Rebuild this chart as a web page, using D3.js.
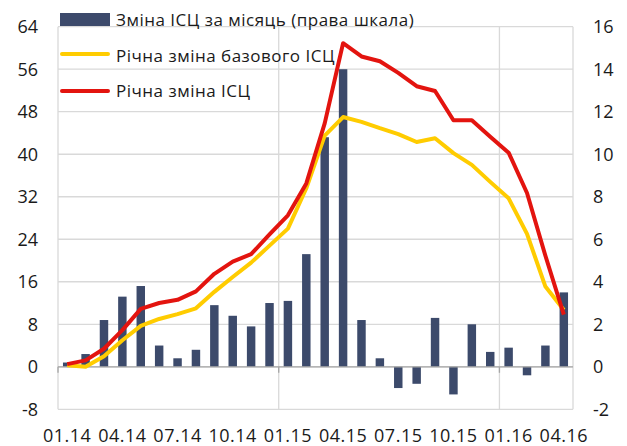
<!DOCTYPE html>
<html><head><meta charset="utf-8">
<script src="https://cdn.jsdelivr.net/npm/d3@7"></script>
<style>body{margin:0;background:#fff}svg{display:block}text{font-family:"Open Sans",sans-serif;fill:#1a1a1a}</style>
</head><body><svg id="c" width="627" height="446"></svg>
<script>
const months = ['01.14','02.14','03.14','04.14','05.14','06.14','07.14','08.14','09.14','10.14','11.14','12.14',
  '01.15','02.15','03.15','04.15','05.15','06.15','07.15','08.15','09.15','10.15','11.15','12.15',
  '01.16','02.16','03.16','04.16'];
const monthlyCPI = [0.2,0.6,2.2,3.3,3.8,1.0,0.4,0.8,2.9,2.4,1.9,3.0,
  3.1,5.3,10.8,14.0,2.2,0.4,-1.0,-0.8,2.3,-1.3,2.0,0.7,0.9,-0.4,1.0,3.5];
const coreYoY = [0.3,0.0,2.0,5.0,7.7,9.0,9.9,11.0,14.1,16.9,19.6,22.8,
  26.0,33.6,43.5,47.0,46.1,44.9,43.8,42.3,43.0,40.2,38.0,34.8,31.7,25.0,15.1,10.7];
const cpiYoY = [0.5,1.2,3.4,6.9,10.9,12.0,12.6,14.2,17.5,19.8,21.2,24.9,
  28.5,34.5,45.8,60.9,58.4,57.5,55.3,52.8,51.9,46.4,46.4,43.3,40.3,32.7,20.9,9.8];
const leftTicks = [-8,0,8,16,24,32,40,48,56,64];
const rightTicks = [-2,0,2,4,6,8,10,12,14,16];
const xLabels = ['01.14','04.14','07.14','10.14','01.15','04.15','07.15','10.15','01.16','04.16'];
const yearStarts = ['01.15','01.16'];
const legendLabels = ['Зміна ІСЦ за місяць (права шкала)','Річна зміна базового ІСЦ','Річна зміна ІСЦ'];

const C = {bar:'#3C4A6B', core:'#FFCC00', cpi:'#E3140F', grid:'#D9D9D9', axis:'#A6A6A6'};
const L = 58, R = 573, T = 26.7, B = 409.3;
const svg = d3.select('#c');
const x = d3.scaleBand().domain(months).range([L,R]).paddingInner(0.54).paddingOuter(0.27);
const yL = d3.scaleLinear().domain([-8,64]).range([B,T]);
const yR = d3.scaleLinear().domain([-2,16]).range([B,T]);
const cx = m => x(m) + x.bandwidth()/2;

// horizontal gridlines
svg.append('g').selectAll('line').data(leftTicks).join('line')
  .attr('x1',L).attr('x2',R).attr('y1',d=>yL(d)).attr('y2',d=>yL(d))
  .attr('stroke',C.grid).attr('stroke-width',1.3);
// vertical gridlines
const vx = [L, ...yearStarts.map(m=>x(m)-x.step()*x.paddingInner()/2), R];
svg.append('g').selectAll('line').data(vx).join('line')
  .attr('x1',d=>d).attr('x2',d=>d).attr('y1',T).attr('y2',B)
  .attr('stroke',C.grid).attr('stroke-width',1.3);

// bars
svg.append('g').selectAll('rect').data(months).join('rect')
  .attr('x',m=>x(m)).attr('width',x.bandwidth())
  .attr('y',(m,i)=>Math.min(yR(monthlyCPI[i]),yR(0)))
  .attr('height',(m,i)=>Math.abs(yR(monthlyCPI[i])-yR(0)))
  .attr('fill',C.bar);

// zero axis
svg.append('line').attr('x1',L).attr('x2',R).attr('y1',yL(0)).attr('y2',yL(0))
  .attr('stroke',C.axis).attr('stroke-width',1.3);
svg.append('g').selectAll('line').data(vx.slice(0,3)).join('line')
  .attr('x1',d=>d).attr('x2',d=>d).attr('y1',yL(0)).attr('y2',yL(0)+6)
  .attr('stroke',C.axis).attr('stroke-width',1.3);

// lines
const line = d3.line().x((d,i)=>cx(months[i])).y(d=>yL(d));
svg.append('path').attr('d',line(coreYoY)).attr('fill','none').attr('stroke',C.core)
  .attr('stroke-width',4).attr('stroke-linejoin','round');
svg.append('path').attr('d',line(cpiYoY)).attr('fill','none').attr('stroke',C.cpi)
  .attr('stroke-width',4).attr('stroke-linejoin','round');

// axes labels
const fs = 18;
svg.append('g').selectAll('text').data(leftTicks).join('text')
  .attr('x',38).attr('y',d=>yL(d)).attr('dy','0.35em').attr('text-anchor','end')
  .attr('font-size',fs).text(d=>d);
svg.append('g').selectAll('text').data(rightTicks).join('text')
  .attr('x',593).attr('y',d=>yR(d)).attr('dy','0.35em').attr('text-anchor','start')
  .attr('font-size',fs).text(d=>d);
svg.append('g').selectAll('text').data(xLabels).join('text')
  .attr('x',d=>cx(d)).attr('y',436).attr('dy','0.35em').attr('text-anchor','middle')
  .attr('font-size',fs).attr('letter-spacing',0.5).text(d=>d);

// legend
const lg = svg.append('g');
lg.append('rect').attr('x',60).attr('y',13).attr('width',50).attr('height',13).attr('fill',C.bar);
[[C.core,54],[C.cpi,91]].forEach(([c,yy])=>{
  lg.append('line').attr('x1',62).attr('x2',108).attr('y1',yy).attr('y2',yy)
    .attr('stroke',c).attr('stroke-width',4).attr('stroke-linecap','round');
});
[20,56,91].forEach((yy,i)=>{
  lg.append('text').attr('x',116).attr('y',yy).attr('dy','0.35em').attr('font-size',17)
    .attr('letter-spacing',0.5).text(legendLabels[i]);
});
</script></body></html>
